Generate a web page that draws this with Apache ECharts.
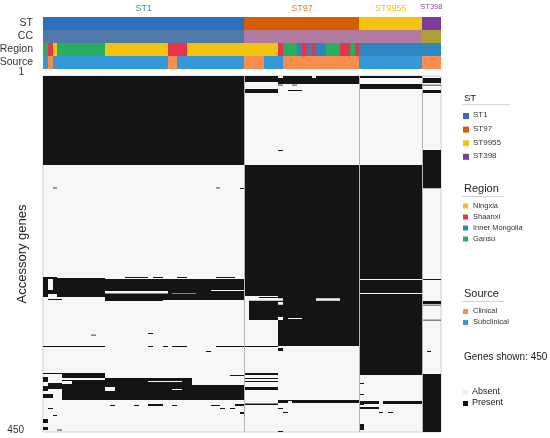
<!DOCTYPE html>
<html>
<head>
<meta charset="utf-8">
<script src="https://cdn.jsdelivr.net/npm/echarts@6/dist/echarts.min.js"></script>
<style>
  html, body { margin: 0; padding: 0; background: #fff; }
  #chart { width: 550px; height: 438px; }
</style>
</head>
<body>
<div id="chart"></div>
<script>
// ---- data ----
const stNames = ['ST1', 'ST97', 'ST9955', 'ST398'];
const stSizes = [42, 24, 13, 4];
const stColors = ['#2e6ebe', '#d55e00', '#f2c40f', '#7d3c98'];
const stTitleColors = ['#4a88d4', '#ee7a35', '#f5c518', '#8e4bb0'];

const ccRuns = [['CC1', 42], ['CC97', 37], ['CC398', 4]];
const ccColors = { CC1: '#5078a8', CC97: '#b07aa1', CC398: '#aaa035' };

const regionNames = ['Ningxia', 'Shaanxi', 'Inner Mongolia', 'Gansu'];
const regionColors = ['#f1c40f', '#e8344b', '#2e86c1', '#27ae60'];
const regionRuns = [
  ['Gansu', 1], ['Shaanxi', 1], ['Ningxia', 1], ['Gansu', 10], ['Ningxia', 13], ['Shaanxi', 4], ['Ningxia', 12],
  ['Ningxia', 7], ['Shaanxi', 1], ['Gansu', 3], ['Inner Mongolia', 1], ['Shaanxi', 1], ['Inner Mongolia', 1],
  ['Shaanxi', 1], ['Inner Mongolia', 2], ['Gansu', 3], ['Shaanxi', 2], ['Gansu', 1], ['Shaanxi', 1],
  ['Inner Mongolia', 17]
];

const sourceNames = ['Clinical', 'Subclinical'];
const sourceColors = ['#f98c4f', '#3498db'];
const sourceRuns = [
  ['Subclinical', 1], ['Clinical', 1], ['Subclinical', 24], ['Clinical', 2], ['Subclinical', 14],
  ['Clinical', 4], ['Subclinical', 4], ['Clinical', 16],
  ['Subclinical', 13], ['Clinical', 4]
];

const annotationRows = ['ST', 'CC', 'Region', 'Source'];
const geneCount = 450;

// presence blocks per ST group: [firstGene, lastGene, firstIsolate, lastIsolate, value] (local isolate index)
const st1Blocks = [
  [0, 111, 0, 41, 1],
  [141, 141, 2, 2, 1], [141, 141, 36, 36, 1], [142, 142, 41, 41, 1],
  [254, 254, 0, 2, 1], [254, 254, 17, 21, 1], [254, 254, 23, 24, 1], [254, 254, 28, 29, 1], [254, 254, 36, 39, 1],
  [255, 278, 0, 12, 1], [257, 269, 1, 1, 0], [275, 278, 1, 2, 0], [282, 282, 1, 3, 1],
  [257, 282, 13, 41, 1], [272, 274, 13, 25, 0], [274, 274, 27, 31, 0], [270, 271, 35, 41, 0], [283, 283, 13, 24, 1],
  [325, 325, 22, 22, 1], [327, 327, 10, 10, 1],
  [341, 342, 0, 12, 1], [341, 341, 22, 22, 1], [341, 341, 25, 25, 1], [341, 341, 27, 29, 1], [341, 341, 36, 41, 1],
  [348, 348, 34, 34, 1],
  [376, 376, 0, 3, 1], [376, 381, 4, 12, 1], [378, 378, 39, 41, 1],
  [384, 408, 4, 12, 1], [386, 388, 4, 5, 0],
  [382, 408, 13, 30, 1], [391, 408, 31, 41, 1], [386, 386, 22, 28, 0], [393, 397, 13, 14, 0], [396, 396, 27, 28, 0],
  [380, 386, 0, 0, 1], [388, 395, 1, 3, 1], [392, 397, 0, 0, 1], [402, 406, 0, 1, 1],
  [416, 416, 14, 14, 1], [416, 416, 19, 19, 1], [415, 416, 22, 24, 1], [416, 416, 27, 27, 1], [416, 416, 35, 36, 1], [415, 416, 40, 41, 1],
  [420, 420, 1, 1, 1], [420, 420, 37, 37, 1], [420, 420, 39, 39, 1],
  [425, 426, 41, 41, 1], [428, 429, 2, 2, 1], [433, 437, 0, 0, 1], [444, 446, 0, 0, 1], [447, 447, 3, 3, 1]
];
const st97Blocks = [
  [0, 6, 0, 23, 1], [0, 1, 7, 7, 0], [0, 1, 14, 14, 0],
  [7, 9, 7, 23, 1], [11, 11, 7, 7, 1], [11, 11, 10, 10, 1],
  [16, 20, 0, 6, 1], [18, 18, 9, 11, 1],
  [94, 94, 7, 7, 1],
  [112, 340, 0, 23, 1],
  [278, 280, 0, 6, 0], [279, 279, 3, 6, 1],
  [281, 283, 0, 7, 0], [281, 283, 15, 19, 0],
  [284, 307, 0, 0, 0], [286, 288, 7, 7, 0], [305, 308, 7, 7, 0], [306, 306, 9, 11, 0],
  [308, 340, 0, 6, 0], [341, 341, 0, 6, 1],
  [344, 346, 7, 7, 1],
  [376, 377, 0, 6, 1], [382, 382, 0, 6, 1], [386, 386, 0, 6, 1], [393, 396, 0, 6, 1],
  [410, 412, 7, 8, 1], [410, 410, 9, 9, 1], [410, 412, 10, 23, 1],
  [414, 415, 0, 6, 1], [420, 420, 7, 7, 1], [425, 425, 8, 8, 1], [449, 449, 7, 7, 1]
];
const st9955Blocks = [
  [0, 1, 0, 12, 1], [10, 16, 0, 12, 1],
  [112, 377, 0, 12, 1], [141, 141, 5, 5, 0], [257, 257, 0, 12, 0], [274, 275, 0, 12, 0],
  [388, 388, 0, 0, 1], [402, 402, 0, 0, 1],
  [411, 413, 0, 3, 1], [411, 413, 5, 12, 1], [415, 415, 0, 0, 1], [419, 420, 0, 3, 1],
  [425, 425, 4, 4, 1], [425, 425, 6, 6, 1], [440, 447, 0, 0, 1]
];
const st398Blocks = [
  [2, 8, 0, 3, 1], [11, 11, 0, 3, 1], [18, 21, 0, 3, 1], [94, 141, 0, 3, 1],
  [257, 257, 0, 3, 1], [285, 287, 0, 3, 1], [289, 289, 0, 3, 1], [308, 308, 0, 3, 1],
  [348, 348, 1, 1, 1], [377, 449, 0, 3, 1]
];
const groupBlocks = [st1Blocks, st97Blocks, st9955Blocks, st398Blocks];

// ---- build the presence/absence matrix ----
const isolates = [];
const groupStart = [];
stNames.forEach((st, g) => {
  groupStart.push(isolates.length);
  for (let i = 0; i < stSizes[g]; i++) isolates.push(st + '_' + (i + 1));
});
const genes = [];
for (let i = 1; i <= geneCount; i++) genes.push(String(i));

const matrix = genes.map(() => isolates.map(() => 0));
groupBlocks.forEach((blocks, g) => {
  blocks.forEach(([r0, r1, c0, c1, v]) => {
    for (let r = r0; r <= r1; r++)
      for (let c = c0; c <= c1; c++) matrix[r][groupStart[g] + c] = v;
  });
});

// present cells merged into rectangles: [firstIsolate, lastIsolate, firstGene, lastGene]
const presentRects = [];
let open = {};
matrix.forEach((row, r) => {
  const next = {};
  let c = 0;
  while (c < row.length) {
    if (row[c] === 1) {
      let e = c;
      while (e + 1 < row.length && row[e + 1] === 1) e++;
      const key = c + '-' + e;
      if (open[key]) { open[key][3] = r; next[key] = open[key]; }
      else { const rect = [c, e, r, r]; presentRects.push(rect); next[key] = rect; }
      c = e + 1;
    } else c++;
  }
  open = next;
});

// annotation runs: [firstIsolate, lastIsolate, rowIndex], colours kept alongside
const annRuns = [];
const annColors = [];
function addRuns(runs, rowIdx, colorOf) {
  let pos = 0;
  runs.forEach(([key, n]) => {
    annRuns.push([pos, pos + n - 1, rowIdx]);
    annColors.push(colorOf(key));
    pos += n;
  });
}
addRuns(stNames.map((s, i) => [s, stSizes[i]]), 0, k => stColors[stNames.indexOf(k)]);
addRuns(ccRuns, 1, k => ccColors[k]);
addRuns(regionRuns, 2, k => regionColors[regionNames.indexOf(k)]);
addRuns(sourceRuns, 3, k => sourceColors[sourceNames.indexOf(k)]);

const titleData = stNames.map((s, g) => [groupStart[g], groupStart[g] + stSizes[g] - 1, 0]);
const separators = groupStart.slice(1).map(c => [c, 0]);

const FONT = 'Liberation Sans, Arial, sans-serif';
const ABSENT = '#f7f7f7';
const PRESENT = '#141414';

// ---- legend on the right ----
const graphics = [];
function legendBlock(title, titleY, titleSize, lineEnd, names, colors, firstY, step, sq, labelSize) {
  graphics.push({ type: 'text', left: 464, top: titleY - titleSize * 0.6,
    style: { text: title, fontSize: titleSize, fontFamily: FONT, fill: '#222' } });
  graphics.push({ type: 'line', shape: { x1: 462, y1: titleY + titleSize * 0.55, x2: lineEnd, y2: titleY + titleSize * 0.55 },
    style: { stroke: '#cfcfcf', lineWidth: 1 } });
  names.forEach((n, i) => {
    const y = firstY + i * step;
    graphics.push({ type: 'rect', shape: { x: 463, y: y - sq / 2, width: sq, height: sq }, style: { fill: colors[i] } });
    graphics.push({ type: 'text', left: 473, top: y - labelSize * 0.6,
      style: { text: n, fontSize: labelSize, fontFamily: FONT, fill: '#333' } });
  });
}
legendBlock('ST', 99.5, 9.5, 510, stNames, stColors, 116, 13.6, 6, 8);
legendBlock('Region', 190.5, 11, 504, regionNames, regionColors, 206, 11, 5, 7.5);
legendBlock('Source', 295.5, 11, 504, sourceNames, sourceColors, 311.5, 11, 5, 7.5);
graphics.push({ type: 'text', left: 464, top: 352, style: { text: 'Genes shown: ' + geneCount, fontSize: 10, fontFamily: FONT, fill: '#222' } });
[['Absent', '#eeeeee'], ['Present', '#111111']].forEach(([n, c], i) => {
  const y = 392.5 + i * 11;
  graphics.push({ type: 'rect', shape: { x: 463, y: y - 2.5, width: 5, height: 5 }, style: { fill: c } });
  graphics.push({ type: 'text', left: 472, top: y - 5.5, style: { text: n, fontSize: 9, fontFamily: FONT, fill: '#222' } });
});

const chart = echarts.init(document.getElementById('chart'));
chart.setOption({
  animation: false,
  backgroundColor: '#fff',
  textStyle: { fontFamily: FONT },
  grid: [
    { left: 43, top: 17, width: 398, height: 52, outerBoundsMode: 'none', containLabel: false },
    { left: 43, top: 76, width: 398, height: 356, outerBoundsMode: 'none', containLabel: false,
      show: true, borderColor: '#cfcfcf', borderWidth: 1, backgroundColor: ABSENT }
  ],
  xAxis: [
    { type: 'category', gridIndex: 0, data: isolates, show: false },
    { type: 'category', gridIndex: 1, data: isolates, show: false }
  ],
  yAxis: [
    { type: 'category', gridIndex: 0, data: annotationRows, inverse: true,
      axisLine: { show: false }, axisTick: { show: false },
      axisLabel: { interval: 0, margin: 10, fontSize: 10.5, color: '#333', fontFamily: FONT } },
    { type: 'category', gridIndex: 1, data: genes, inverse: true,
      name: 'Accessory genes', nameLocation: 'middle', nameGap: 14, nameRotate: 90, nameMoveOverlap: false,
      nameTextStyle: { fontSize: 13, color: '#222', fontFamily: FONT },
      axisLine: { show: false }, axisTick: { show: false },
      axisLabel: { interval: 0, margin: 19, fontSize: 10, color: '#333', fontFamily: FONT,
        formatter: (v, i) => i === 0 ? '{up|' + v + '}' : (i === geneCount - 1 ? '{dn|' + v + '}' : ''),
        rich: { up: { fontSize: 10, padding: [0, 0, 9, 0] }, dn: { fontSize: 10, padding: [0, 0, 2, 0] } } } }
  ],
  graphic: graphics,
  series: [
    {
      type: 'custom', name: 'Present', xAxisIndex: 1, yAxisIndex: 1, data: presentRects,
      encode: { x: [0, 1], y: [2, 3] }, silent: true,
      renderItem: (params, api) => {
        const s = api.size([1, 1]);
        const a = api.coord([api.value(0), api.value(2)]);
        const b = api.coord([api.value(1), api.value(3)]);
        const x0 = Math.round(a[0] - s[0] / 2), x1 = Math.round(b[0] + s[0] / 2);
        const top = a[1] - s[1] / 2, bottom = b[1] + s[1] / 2;
        let y0 = Math.round(top), y1 = Math.round(bottom);
        if (y1 <= y0) { y0 = top; y1 = bottom; }
        return { type: 'rect', shape: { x: x0, y: y0, width: x1 - x0, height: y1 - y0 },
          style: { fill: PRESENT } };
      }
    },
    {
      type: 'custom', xAxisIndex: 0, yAxisIndex: 0, data: annRuns, encode: { x: [0, 1], y: 2 }, silent: true,
      renderItem: (params, api) => {
        const a = api.coord([api.value(0), api.value(2)]);
        const b = api.coord([api.value(1), api.value(2)]);
        const s = api.size([1, 1]);
        const x0 = Math.round(a[0] - s[0] / 2), x1 = Math.round(b[0] + s[0] / 2);
        return { type: 'rect',
          shape: { x: x0, y: a[1] - s[1] / 2, width: x1 - x0, height: s[1] },
          style: { fill: annColors[params.dataIndex] } };
      }
    },
    {
      type: 'custom', xAxisIndex: 0, yAxisIndex: 0, data: titleData, encode: { x: [0, 1], y: 2 }, silent: true,
      renderItem: (params, api) => {
        const a = api.coord([api.value(0), 0]);
        const b = api.coord([api.value(1), 0]);
        const g = params.dataIndex;
        const small = stSizes[g] < 6;
        return { type: 'text',
          style: { text: stNames[g], x: (a[0] + b[0]) / 2, y: params.coordSys.y - (small ? 10 : 8.5),
            align: 'center', verticalAlign: 'middle', fontSize: small ? 7.5 : 9, fontFamily: FONT,
            fill: stTitleColors[g] } };
      }
    },
    {
      type: 'custom', xAxisIndex: 1, yAxisIndex: 1, data: separators, encode: { x: 0, y: 1 }, silent: true, z: 5,
      renderItem: (params, api) => {
        const p = api.coord([api.value(0), 0]);
        const s = api.size([1, 1]);
        const x = Math.round(p[0] - s[0] / 2) + 0.5;
        const cs = params.coordSys;
        return { type: 'line', shape: { x1: x, y1: cs.y, x2: x, y2: cs.y + cs.height },
          style: { stroke: '#b5b5b5', lineWidth: 1 } };
      }
    }
  ]
});
</script>
</body>
</html>
